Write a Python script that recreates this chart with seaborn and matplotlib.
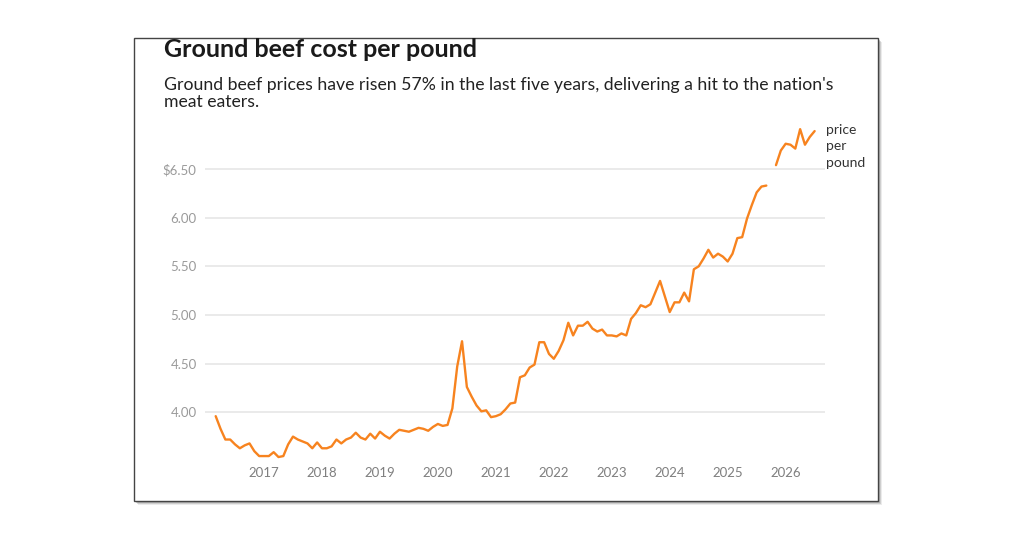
import numpy as np
import pandas as pd
import seaborn as sns
import matplotlib.pyplot as plt
from matplotlib.patches import Rectangle

# Monthly ground beef price, Mar 2016 onward (one month missing)
start_month = "2016-03-01"
prices = [
    3.96, 3.83, 3.72, 3.72, 3.67, 3.63, 3.66, 3.68, 3.60, 3.55,
    3.55, 3.55, 3.59, 3.54, 3.55, 3.67, 3.75, 3.72, 3.70, 3.68,
    3.63, 3.69, 3.63, 3.63, 3.65, 3.72, 3.68, 3.72, 3.74, 3.79,
    3.74, 3.72, 3.78, 3.73, 3.80, 3.76, 3.73, 3.78, 3.82, 3.81,
    3.80, 3.82, 3.84, 3.83, 3.81, 3.85, 3.88, 3.86, 3.87, 4.04,
    4.47, 4.73, 4.26, 4.16, 4.07, 4.01, 4.02, 3.95, 3.96, 3.98,
    4.03, 4.09, 4.10, 4.36, 4.38, 4.46, 4.49, 4.72, 4.72, 4.60,
    4.55, 4.63, 4.74, 4.92, 4.79, 4.89, 4.89, 4.93, 4.86, 4.83,
    4.85, 4.79, 4.79, 4.78, 4.81, 4.79, 4.96, 5.02, 5.10, 5.08,
    5.11, 5.23, 5.35, 5.19, 5.03, 5.13, 5.13, 5.23, 5.14, 5.47,
    5.50, 5.58, 5.67, 5.59, 5.63, 5.60, 5.55, 5.63, 5.79, 5.80,
    5.99, 6.13, 6.26, 6.32, 6.33, np.nan, 6.54, 6.69, 6.76, 6.75,
    6.71, 6.91, 6.75, 6.83, 6.89,
]
year_ticks = list(range(2017, 2027))
price_ticks = [4.00, 4.50, 5.00, 5.50, 6.00, 6.50]
price_labels = ["4.00", "4.50", "5.00", "5.50", "6.00", "$6.50"]

title = "Ground beef cost per pound"
subtitle = ("Ground beef prices have risen 57% in the last five years, delivering a hit to the nation's\n"
            "meat eaters.")
series_label = "price\nper\npound"

dates = pd.date_range(start_month, periods=len(prices), freq="MS")
df = pd.DataFrame({"date": dates, "price": prices})
df["year"] = df["date"].dt.year + (df["date"].dt.month - 1) / 12
df["seg"] = df["price"].isna().cumsum()
df = df.dropna()

W, H = 1024, 535
sns.set_style("white")
plt.rcParams["font.family"] = ["Lato", "DejaVu Sans"]

fig = plt.figure(figsize=(W / 100, H / 100), dpi=100)
fig.patch.set_facecolor("white")

# card with a soft shadow
x0, y0, x1, y1 = 134, 38, 878, 501
for off, a in [(4, 0.15), (3, 0.25), (2, 0.35)]:
    fig.add_artist(Rectangle(((x0 + off) / W, 1 - (y1 + off) / H), (x1 - x0) / W, (y1 - y0) / H,
                             transform=fig.transFigure, facecolor="#7a7a7a", edgecolor="none",
                             alpha=a, zorder=0))
fig.add_artist(Rectangle((x0 / W, 1 - y1 / H), (x1 - x0) / W, (y1 - y0) / H,
                         transform=fig.transFigure, facecolor="white", edgecolor="#444444",
                         linewidth=1.0, zorder=1))

ax = fig.add_axes([205 / W, 1 - 462 / H, 620 / W, (462 - 120) / H])
ax.set_zorder(2)
ax.patch.set_alpha(0)

sns.lineplot(data=df, x="year", y="price", units="seg", estimator=None,
             color="#f7831f", linewidth=1.7, ax=ax)

ax.set_xlim(2015.982, 2026.679)
ax.set_ylim(3.489, 7.004)
ax.set_xticks(year_ticks)
ax.set_xticklabels([str(y) for y in year_ticks])
ax.set_yticks(price_ticks)
ax.set_yticklabels(price_labels)
ax.tick_params(axis="y", length=0, pad=6, labelsize=9.5, labelcolor="#9a9a9a")
ax.tick_params(axis="x", length=0, pad=3.5, labelsize=9.5, labelcolor="#7f7f7f")
ax.grid(axis="y", color="#e6e6e6", linewidth=1.2)
ax.grid(axis="x", visible=False)
for s in ax.spines.values():
    s.set_visible(False)
ax.set_xlabel("")
ax.set_ylabel("")

fig.text(826 / W, 1 - 124 / H, series_label, ha="left", va="top", fontsize=10,
         color="#333333", linespacing=1.45, zorder=3)

fig.text(164 / W, 1 - 57 / H, title, ha="left", va="baseline", fontsize=18,
         fontweight="bold", color="#1a1a1a", zorder=3)
fig.text(164 / W, 1 - 107 / H, subtitle, ha="left", va="baseline", fontsize=12.7,
         color="#222222", linespacing=1.1, zorder=3)

fig.savefig("out.png", dpi=100, facecolor="white")
